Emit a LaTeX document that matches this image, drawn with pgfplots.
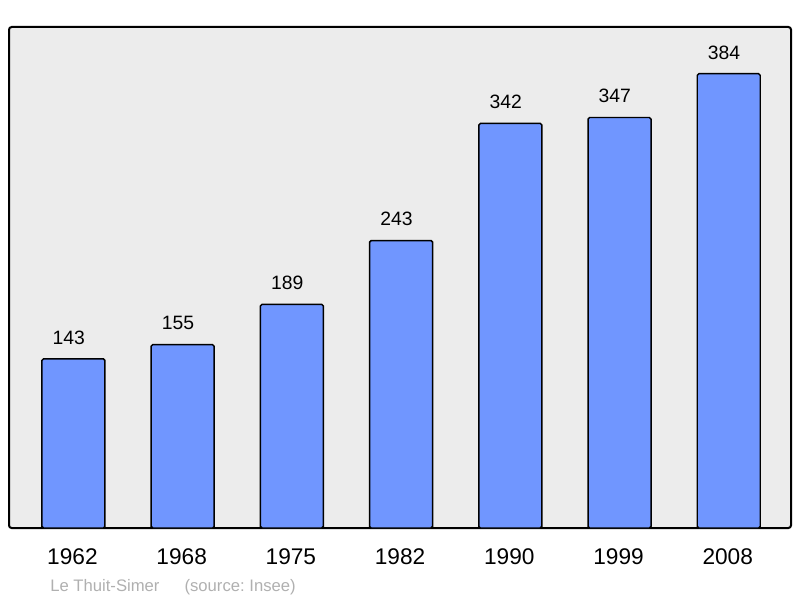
\documentclass[border=0pt]{standalone}
\usepackage{pgfplots}
\pgfplotsset{compat=1.18}
\usepackage{fontspec}
\setmainfont{Liberation Sans}
\frenchspacing
\definecolor{barblue}{RGB}{112,150,255}
\definecolor{panel}{RGB}{236,236,236}
\definecolor{srcgray}{RGB}{176,176,176}
\begin{document}
\begin{tikzpicture}
\begin{axis}[
    name=ax,
    scale only axis,
    width=586.5pt, height=375.75pt,
    xmin=-0.59, xmax=6.57,
    ymin=0, ymax=423.5,
    axis background/.style={fill=panel},
    axis line style={line width=1.5pt, rounded corners=2pt},
    ybar, bar width=47.25pt, bar shift=0pt,
    xtick={0,...,6},
    xticklabels={1962,1968,1975,1982,1990,1999,2008},
    ytick=\empty,
    major tick length=0pt,
    xticklabel style={font=\fontsize{17}{20}\selectfont, yshift=-12pt, xshift=-0.75pt},
    nodes near coords,
    every node near coord/.append style={font=\fontsize{14.5}{17}\selectfont, yshift=7pt, xshift=-3.5pt, black},
    /pgf/number format/assume math mode=true,
]
\addplot[fill=barblue, draw=black, line width=1.1pt, rounded corners=1.2pt]
  coordinates {(0,143)(1,155)(2,189)(3,243)(4,342)(5,347)(6,384)};
\end{axis}
\node[anchor=base west, inner sep=0pt, text=srcgray, font=\fontsize{12.5}{15}\selectfont]
  at ([xshift=30.75pt, yshift=-47.25pt]ax.south west) {Le Thuit-Simer\hspace{1.5em}(source: Insee)};
\useasboundingbox ([xshift=-6.75pt, yshift=-52.5pt]ax.south west) rectangle ([xshift=6.75pt, yshift=20.25pt]ax.north east);
\end{tikzpicture}
\end{document}
